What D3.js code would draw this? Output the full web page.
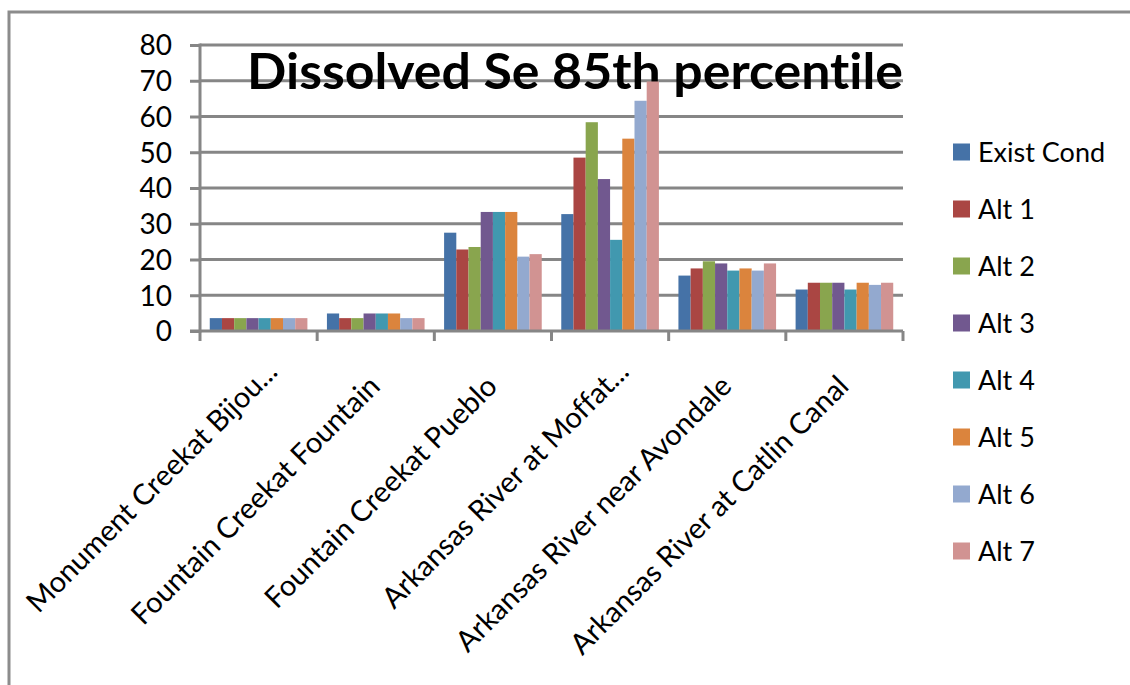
<!DOCTYPE html>
<html>
<head>
<meta charset="utf-8">
<script src="https://cdn.jsdelivr.net/npm/d3@7/dist/d3.min.js"></script>
<style>
  html, body { margin: 0; padding: 0; background: #fff; }
  svg { display: block; font-family: Lato, "Open Sans", sans-serif; font-variant-ligatures: none; }
</style>
</head>
<body>
<svg id="chart" width="1130" height="685"></svg>
<script>
// Sampling sites along the x axis (long names are cut with an ellipsis)
const categories = [
  "Monument Creekat Bijou...",
  "Fountain Creekat Fountain",
  "Fountain Creekat Pueblo",
  "Arkansas River at Moffat...",
  "Arkansas River near Avondale",
  "Arkansas River at Catlin Canal"
];

const seriesNames = ["Exist Cond", "Alt 1", "Alt 2", "Alt 3", "Alt 4", "Alt 5", "Alt 6", "Alt 7"];

// Dissolved selenium, 85th percentile, per site
const existCond = [3.6, 4.9, 27.5, 32.7, 15.5, 11.6];
const alt1      = [3.6, 3.6, 22.8, 48.5, 17.5, 13.5];
const alt2      = [3.6, 3.6, 23.5, 58.4, 19.5, 13.5];
const alt3      = [3.6, 4.9, 33.3, 42.5, 18.9, 13.5];
const alt4      = [3.6, 4.9, 33.3, 25.5, 16.9, 11.6];
const alt5      = [3.6, 4.9, 33.3, 53.8, 17.5, 13.5];
const alt6      = [3.6, 3.6, 20.8, 64.4, 16.9, 12.9];
const alt7      = [3.6, 3.6, 21.5, 69.8, 18.9, 13.5];

const yTicks = [0, 10, 20, 30, 40, 50, 60, 70, 80];

const seriesValues = [existCond, alt1, alt2, alt3, alt4, alt5, alt6, alt7];
const colors = ["#4572A7", "#AA4643", "#89A54E", "#71588F", "#4198AF", "#DB843D", "#93A9CF", "#D19392"];

const svg = d3.select("#chart");
const axisColor = "#868686";

// Outer chart frame
svg.append("rect")
  .attr("x", 9).attr("y", 12)
  .attr("width", 1300).attr("height", 900)
  .attr("fill", "none")
  .attr("stroke", "#8c8c8c")
  .attr("stroke-width", 3);

const plot = { left: 200, right: 903, top: 45, bottom: 331 };

const x0 = d3.scaleBand()
  .domain(categories)
  .range([plot.left, plot.right])
  .padding(0);

const x1 = d3.scaleBand()
  .domain(seriesNames)
  .range([0, x0.bandwidth()])
  .paddingInner(0)
  .paddingOuter(0.8);

const y = d3.scaleLinear()
  .domain([0, 80])
  .range([plot.bottom, plot.top]);

// Horizontal gridlines
svg.append("g")
  .selectAll("line")
  .data(yTicks.filter(t => t > 0))
  .join("line")
  .attr("x1", plot.left).attr("x2", plot.right)
  .attr("y1", d => y(d)).attr("y2", d => y(d))
  .attr("stroke", axisColor)
  .attr("stroke-width", 3);

// Title
svg.append("text")
  .attr("x", 247)
  .attr("y", 89)
  .attr("font-size", 50)
  .attr("font-weight", 700)
  .attr("fill", "#000")
  .attr("textLength", 656)
  .attr("lengthAdjust", "spacingAndGlyphs")
  .text("Dissolved Se 85th percentile");

// Bars
const rows = categories.map((c, i) => ({
  category: c,
  values: seriesNames.map((s, j) => ({ series: s, value: seriesValues[j][i], color: colors[j] }))
}));

svg.append("g")
  .selectAll("g")
  .data(rows)
  .join("g")
  .attr("transform", d => `translate(${x0(d.category)},0)`)
  .selectAll("rect")
  .data(d => d.values)
  .join("rect")
  .attr("x", d => x1(d.series))
  .attr("width", x1.bandwidth())
  .attr("y", d => y(d.value))
  .attr("height", d => y(0) - y(d.value))
  .attr("fill", d => d.color);

// Y axis
const yAxis = svg.append("g")
  .attr("transform", `translate(${plot.left},0)`)
  .call(d3.axisLeft(y).tickValues(yTicks).tickSize(10).tickPadding(18).tickFormat(d3.format("d")));
yAxis.select(".domain").attr("stroke", axisColor).attr("stroke-width", 3)
  .attr("d", `M0,${plot.top - 1.5}V${plot.bottom + 1.5}`);
yAxis.selectAll(".tick line").attr("stroke", axisColor).attr("stroke-width", 3);
yAxis.selectAll(".tick text")
  .attr("font-family", "Lato, sans-serif")
  .attr("font-size", 28)
  .attr("fill", "#000")
  .attr("dy", "0.35em");

// X axis line and category boundary ticks
const xAxis = svg.append("g");
xAxis.append("line")
  .attr("x1", plot.left - 10).attr("x2", plot.right)
  .attr("y1", y(0)).attr("y2", y(0))
  .attr("stroke", axisColor).attr("stroke-width", 3);
const boundaries = categories.map(c => x0(c)).concat([x0(categories[categories.length - 1]) + x0.bandwidth()]);
xAxis.selectAll("line.tick")
  .data(boundaries)
  .join("line")
  .attr("class", "tick")
  .attr("x1", d => d).attr("x2", d => d)
  .attr("y1", y(0)).attr("y2", y(0) + 10)
  .attr("stroke", axisColor).attr("stroke-width", 3);

// Rotated category labels; a trailing ellipsis hangs past the anchor
const labels = xAxis.selectAll("g.label")
  .data(categories)
  .join("g")
  .attr("class", "label")
  .attr("transform", d => `translate(${x0(d) + x0.bandwidth() / 2 + 6},388) rotate(-45)`);

labels.append("text")
  .attr("text-anchor", "end")
  .attr("font-size", 29)
  .attr("fill", "#000")
  .text(d => d.endsWith("...") ? d.slice(0, -3) : d);

labels.filter(d => d.endsWith("..."))
  .append("text")
  .attr("text-anchor", "start")
  .attr("font-size", 29)
  .attr("fill", "#000")
  .text("...");

// Legend
const legend = svg.append("g")
  .selectAll("g")
  .data(seriesNames)
  .join("g")
  .attr("transform", (d, i) => `translate(953,${152 + i * 57})`);

legend.append("rect")
  .attr("x", 0).attr("y", -8.5)
  .attr("width", 17).attr("height", 17)
  .attr("fill", (d, i) => colors[i]);

legend.append("text")
  .attr("x", 25)
  .attr("dy", "0.36em")
  .attr("font-size", 27)
  .attr("fill", "#000")
  .text(d => d);
</script>
</body>
</html>
